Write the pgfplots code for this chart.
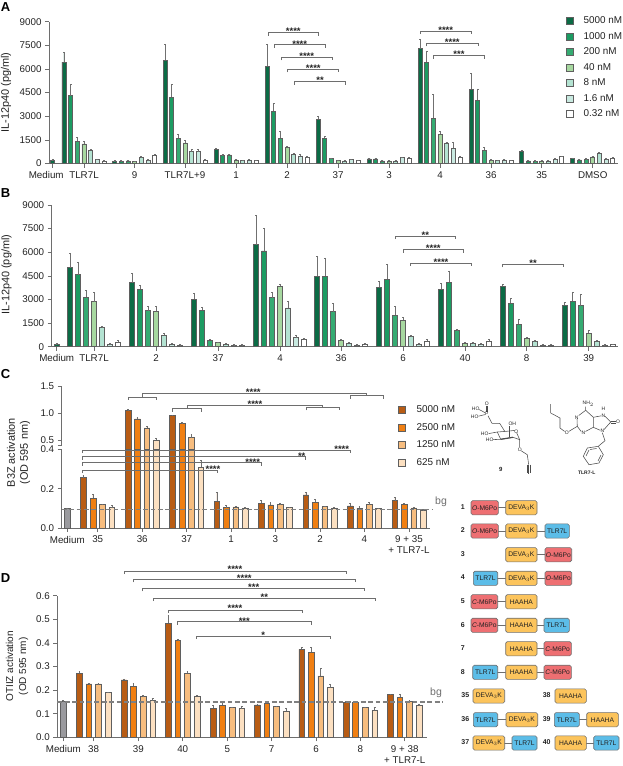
\documentclass[border=0pt]{standalone}
\usepackage{fontspec}
\setmainfont{Liberation Sans}
\usepackage{pgfplots}
\usepackage{pgfplotstable}
\pgfplotsset{compat=1.18}

\definecolor{txt}{HTML}{222222}
\definecolor{ax}{HTML}{6E6E6E}
\definecolor{bgline}{HTML}{808080}
\definecolor{barline}{HTML}{5F5F5F}
\definecolor{errline}{HTML}{707070}
\definecolor{gA}{HTML}{0B6B45}
\definecolor{gB}{HTML}{1C9B62}
\definecolor{gC}{HTML}{35AB72}
\definecolor{gD}{HTML}{A7D8A0}
\definecolor{gE}{HTML}{B4E3D2}
\definecolor{gF}{HTML}{C8E9E0}
\definecolor{gG}{HTML}{FFFFFF}
\definecolor{oA}{HTML}{B85C14}
\definecolor{oB}{HTML}{F07F12}
\definecolor{oC}{HTML}{F7BD7F}
\definecolor{oD}{HTML}{FCE0C1}
\definecolor{medgray}{HTML}{9A9A9E}
\definecolor{redb}{HTML}{EE6F72}
\definecolor{yelb}{HTML}{FCC45C}
\definecolor{blub}{HTML}{5CBDE8}

% x column = pixel position of the group centre, v/e = value and upper error per concentration
\pgfplotstableread{
x v1 e1 v2 e2 v3 e3 v4 e4 v5 e5 v6 e6 v7 e7
84 6440 610 4300 700 1400 250 1250 190 850 60 250 50 150 40
134.7 150 40 150 40 170 40 130 40 400 40 210 40 530 40
185 6540 1020 4200 820 1610 270 1310 150 760 150 760 150 210 40
236 910 60 530 40 550 40 230 40 190 40 230 40 190 40
287 6180 1400 3330 480 1590 440 1040 40 590 50 490 120 400 40
338 2820 170 1610 130 320 40 190 40 170 40 250 40 190 40
389 300 40 300 40 170 40 170 40 170 40 380 40 360 40
440 7290 590 6440 655 2860 1520 1860 170 1310 50 970 360 400 40
491 4720 1000 4020 720 850 170 210 40 190 40 230 40 190 40
541.7 780 50 170 40 150 40 170 40 170 40 275 40 445 40
592.7 320 40 230 40 275 40 420 40 650 50 275 40 340 40
}\tabA
\pgfplotstableread{
x v1 e1 v2 e2 v3 e3 v4 e4 v5 e5 v6 e6 v7 e7
94 5020 910 4575 765 3135 425 2860 610 1230 40 150 40 300 80
156 4070 590 3640 260 2290 270 2245 315 720 130 170 40 85 40
218 3030 360 2330 150 420 40 255 40 170 40 85 40 85 40
280 6480 1860 6080 1440 3110 320 3830 130 2460 420 570 170 445 85
341 4490 1270 4490 1160 2220 530 400 45 235 40 85 40 150 40
403 3790 340 4280 950 1990 550 1690 170 635 65 170 40 340 105
465 3660 380 4090 720 1020 100 235 40 210 45 150 40 340 105
526.7 3830 130 2750 320 1420 340 530 60 320 60 105 45 105 45
588.7 2630 170 2880 610 2600 750 870 170 340 60 85 40 125 45
}\tabB
\pgfplotstableread{
x v1 e1 v2 e2 v3 e3 v4 e4
97.7 0.256 0.012 0.151 0.019 0.119 0.003 0.103 0.011
142.2 1.06 0.01 0.895 0.03 0.728 0.03 0.506 0.037
186.7 0.955 0.008 0.815 0.012 0.55 0.06 0.31 0.034
231 0.136 0.045 0.103 0.012 0.107 0.004 0.102 0.002
275.3 0.127 0.012 0.117 0.012 0.119 0.005 0.103 0.002
320 0.168 0.013 0.132 0.014 0.108 0.002 0.102 0.003
364.3 0.112 0.013 0.1 0.012 0.119 0.01 0.098 0.002
409 0.139 0.015 0.122 0.003 0.102 0.005 0.092 0.001
}\tabC
\pgfplotstableread{
x v1 e1 v2 e2 v3 e3 v4 e4
93.7 0.271 0.009 0.226 0.002 0.226 0.002 0.189 0.003
138.3 0.243 0.005 0.216 0.013 0.175 0.002 0.155 0.01
182.7 0.483 0.035 0.412 0.002 0.272 0.006 0.176 0.003
227.3 0.124 0.012 0.136 0.008 0.127 0.002 0.121 0.01
271.7 0.137 0.003 0.144 0.004 0.131 0.002 0.112 0.011
316 0.373 0.007 0.36 0.021 0.26 0.032 0.21 0.014
360.3 0.148 0.006 0.147 0.003 0.127 0.002 0.114 0.013
404.7 0.181 0.002 0.169 0.015 0.152 0.005 0.134 0.004
}\tabD

\pgfplotsset{
  panel/.style={
    scale only axis, anchor=south west, ybar, enlargelimits=false,
    axis lines=left, axis line style={-,draw=ax,line width=0.7pt},
    tick align=outside, tick pos=left, major tick length=4pt,
    tick style={draw=ax,line width=0.7pt},
    tick label style={font=\fontsize{9.8}{11}\selectfont,text=txt},
    /pgf/number format/assume math mode=true,
    /pgf/number format/1000 sep={}, scaled y ticks=false,
    xticklabel style={align=center,yshift=-0.5pt},
    legend image code/.code={\draw[#1,draw=barline,line width=0.6pt] (0pt,-3.6pt) rectangle (7.2pt,3.6pt);},
  },
  onedigit/.style={/pgf/number format/fixed,/pgf/number format/fixed zerofill,/pgf/number format/precision=1},
  bars/.style={
    draw=barline, line width=0.55pt,
    /pgfplots/error bars/y dir=plus, /pgfplots/error bars/y explicit,
    /pgfplots/error bars/error bar style={draw=errline,line width=0.6pt},
    /pgfplots/error bars/error mark options={rotate=90,errline,mark size=0.9pt,line width=0.5pt},
  },
  bgdash/.style={sharp plot,no marks,draw=bgline,line width=1.3pt,dash pattern=on 4.8pt off 2.6pt},
}
\newcommand{\ser}[4]{\addplot[bars,fill=#2,bar shift=#3pt] table[x=x,y=v#4,y error=e#4]{#1};}
\newcommand{\brk}[6]{\draw[ax,line width=0.7pt] (#1,#3+3)--(#1,#3)--(#2,#3)--(#2,#3+3);
  \node[anchor=base,inner sep=0pt,text=txt,font=\bfseries\fontsize{9.5}{10}\selectfont] at (#5,#6+5.6) {#4};}
\newcommand{\cb}[5]{\draw[rounded corners=1.6pt,fill=#4,draw=ax,line width=0.6pt] (#1,#3-7.1) rectangle (#2,#3+7.1);
  \node[inner sep=0pt,text=txt,font=\fontsize{6.7}{7}\selectfont] at ({(#1+#2)/2},#3) {#5};}
\newcommand{\lk}[3]{\draw[ax,line width=0.6pt] (#1,#3)--(#2,#3);}
\newcommand{\num}[3]{\node[inner sep=0pt,text=txt,font=\bfseries\fontsize{7}{8}\selectfont] at (#1,#2) {#3};}
\newcommand{\chem}[3]{\node[inner sep=0pt,text=txt,font=\fontsize{5}{6}\selectfont] at (#1,#2) {#3};}
\newcommand{\OM}{\textit{O}-M6Po}
\newcommand{\CM}{\textit{C}-M6Po}
\newcommand{\DV}{DEVA$_3$K}

\begin{document}
\begin{tikzpicture}[x=1pt,y=-1pt]
\useasboundingbox (0,0) rectangle (622,766);
\coordinate (pA) at (49,163.5);
\coordinate (pB) at (51.7,346.7);
\coordinate (pC) at (61.7,528);
\coordinate (pCu) at (61.7,449.3);
\coordinate (pD) at (57.3,737.3);

% panel A
\begin{axis}[panel, at={(pA)}, width=569pt, height=141.8pt,
  xmin=49, xmax=618, ymin=0, ymax=9000, bar width=4pt,
  ytick={0,1500,3000,4500,6000,7500,9000},
  xtick={52.7,84,134.7,185,236,287,338,389,440,491,541.7,592.7},
  xticklabels={\hspace*{-13pt}Medium,TLR7L,9,TLR7L+9,1,2,37,3,4,36,35,DMSO},
  ylabel={IL-12p40 (pg/ml)},
  every axis y label/.style={at={(axis description cs:-0.0756,0.5)},rotate=90,anchor=center,font=\fontsize{10.9}{12}\selectfont,text=txt},
  legend style={at={(axis cs:565.5,9360)},anchor=north west,draw=none,fill=none,inner sep=0pt,
    font=\fontsize{9.9}{11}\selectfont,text=txt,row sep=5.9pt,column sep=9.5pt,
    nodes={inner sep=0.6pt}},
  legend cell align=left]
\ser{\tabA}{gA}{-20}{1}\addlegendentry{5000 nM}
\ser{\tabA}{gB}{-13.33}{2}\addlegendentry{1000 nM}
\ser{\tabA}{gC}{-6.67}{3}\addlegendentry{200 nM}
\ser{\tabA}{gD}{0}{4}\addlegendentry{40 nM}
\ser{\tabA}{gE}{6.67}{5}\addlegendentry{8 nM}
\ser{\tabA}{gF}{13.33}{6}\addlegendentry{1.6 nM}
\ser{\tabA}{gG}{20}{7}\addlegendentry{0.32 nM}
\addplot[bars,fill=gA,bar shift=0pt,forget plot] coordinates {(52.7,190) +- (0,60)};
\end{axis}

% panel B
\begin{axis}[panel, at={(pB)}, width=566.3pt, height=141.7pt,
  xmin=51.7, xmax=618, ymin=0, ymax=9000, bar width=5pt,
  ytick={0,1500,3000,4500,6000,7500,9000},
  xtick={56.7,94,156,218,280,341,403,465,526.7,588.7},
  xticklabels={Medium,TLR7L,2,37,4,36,6,40,8,39},
  ylabel={IL-12p40 (pg/ml)},
  every axis y label/.style={at={(axis description cs:-0.0795,0.508)},rotate=90,anchor=center,font=\fontsize{10.9}{12}\selectfont,text=txt}]
\ser{\tabB}{gA}{-24}{1}
\ser{\tabB}{gB}{-16}{2}
\ser{\tabB}{gC}{-8}{3}
\ser{\tabB}{gD}{0}{4}
\ser{\tabB}{gE}{8}{5}
\ser{\tabB}{gF}{16}{6}
\ser{\tabB}{gG}{24}{7}
\addplot[bars,fill=gA,bar shift=0pt] coordinates {(56.7,150) +- (0,40)};
\end{axis}

% panel C, lower part of the broken axis
\begin{axis}[panel, at={(pC)}, width=368.3pt, height=78.7pt,
  xmin=61.7, xmax=430, ymin=0, ymax=0.4, bar width=5.6pt,
  ytick={0,0.2,0.4}, yticklabel style={onedigit},
  xtick={67.3,97.7,142.2,186.7,231,275.3,320,364.3,409},
  xticklabels={Medium,35,36,37,1,3,2,4,{9 + 35\\+ TLR7-L}},
  ylabel={B3Z activation\\(OD 595 nm)},
  every axis y label/.style={at={(axis description cs:-0.1173,0.957)},rotate=90,anchor=center,align=center,font=\fontsize{10.9}{13}\selectfont,text=txt},
  legend style={at={(axis cs:397.5,0.625)},anchor=north west,draw=none,fill=none,inner sep=0pt,
    font=\fontsize{9.9}{11}\selectfont,text=txt,row sep=7.9pt,column sep=10.5pt,nodes={inner sep=0.6pt}},
  legend cell align=left]
\ser{\tabC}{oA}{-14.16}{1}\addlegendentry{5000 nM}
\ser{\tabC}{oB}{-4.72}{2}\addlegendentry{2500 nM}
\ser{\tabC}{oC}{4.72}{3}\addlegendentry{1250 nM}
\ser{\tabC}{oD}{14.16}{4}\addlegendentry{625 nM}
\addplot[bars,fill=medgray,bar shift=0pt,forget plot] coordinates {(67.3,0.098) +- (0,0.004)};
\end{axis}

% panel C, upper part: only the bars above the break
\begin{axis}[panel, at={(pCu)}, width=368.3pt, height=63pt,
  xmin=61.7, xmax=430, ymin=0.3333, ymax=1.5, bar width=5.6pt,
  axis x line=none,
  ytick={0.413,0.5,1,1.5}, yticklabels={,0.5,1.0,1.5},
  y filter/.expression={y<0.4 ? nan : y}]
\ser{\tabC}{oA}{-14.16}{1}
\ser{\tabC}{oB}{-4.72}{2}
\ser{\tabC}{oC}{4.72}{3}
\ser{\tabC}{oD}{14.16}{4}
\end{axis}
\fill[white] (60,445.6) rectangle (63.5,448.9);

% background level of panel C
\begin{axis}[scale only axis, anchor=south west, at={(pC)}, width=368.3pt, height=78.7pt,
  xmin=61.7, xmax=430, ymin=0, ymax=0.4, hide axis, clip=false]
\addplot[bgdash] coordinates {(61.7,0.0945) (433,0.0945)};
\end{axis}

% panel D
\begin{axis}[panel, at={(pD)}, width=369.4pt, height=141.6pt,
  xmin=57.3, xmax=426.7, ymin=0, ymax=0.6, bar width=5.6pt, clip=false,
  ytick={0,0.1,0.2,0.3,0.4,0.5,0.6}, yticklabel style={onedigit},
  xtick={63.3,93.7,138.3,182.7,227.3,271.7,316,360.3,404.7},
  xticklabels={Medium,38,39,40,5,7,6,8,{9 + 38\\+ TLR7-L}},
  ylabel={OTIIZ activation\\(OD 595 nm)},
  every axis y label/.style={at={(axis description cs:-0.109,0.501)},rotate=90,anchor=center,align=center,font=\fontsize{10}{13}\selectfont,text=txt}]
\ser{\tabD}{oA}{-14.3}{1}
\ser{\tabD}{oB}{-4.77}{2}
\ser{\tabD}{oC}{4.77}{3}
\ser{\tabD}{oD}{14.3}{4}
\addplot[bars,fill=medgray,bar shift=0pt] coordinates {(63.3,0.151) +- (0,0.006)};
\addplot[bgdash] coordinates {(57.3,0.15) (443,0.15)};
\end{axis}

% panel letters and bg labels
\foreach \l/\py in {A/7,B/192.7,C/374,D/578}
  \node[inner sep=0pt,font=\bfseries\fontsize{13}{14}\selectfont,text=black] at (5.5,\py) {\l};
\node[inner sep=0pt,text=ax,font=\fontsize{10.5}{11}\selectfont] at (441,501.7) {bg};
\node[inner sep=0pt,text=ax,font=\fontsize{10.5}{11}\selectfont] at (436,692.7) {bg};

% significance brackets A
\brk{268}{318.7}{32.7}{****}{293.3}{29.3}
\brk{274.3}{325.3}{44.7}{****}{299.7}{41.7}
\brk{281}{332.3}{57.3}{****}{306.7}{54}
\brk{287.7}{338.7}{69.3}{****}{313.3}{66}
\brk{294.3}{345.3}{81.7}{**}{320}{78.3}
\brk{420.3}{471.7}{31}{****}{445.7}{28.3}
\brk{426.7}{478}{43.3}{****}{452.3}{40}
\brk{433.7}{484.7}{55.7}{***}{459}{52.3}
% B
\brk{395}{455.7}{236}{**}{425.3}{232.7}
\brk{403}{463.7}{249.7}{****}{433.3}{246}
\brk{410.3}{471.3}{263}{****}{441}{259.7}
\brk{502.7}{563.3}{264.3}{**}{533}{260.7}
% C lower
\brk{82.7}{350.3}{450}{****}{341.7}{446.7}
\brk{82.7}{305.3}{456.7}{**}{301.7}{453.7}
\brk{82.7}{261.7}{462.7}{****}{252.7}{460.3}
\brk{82.7}{217.3}{470}{****}{213}{467.3}
% C upper, pairs of groups
\begin{scope}[ax,line width=0.7pt]
\draw (128,399.7)--(128,397)--(156.3,397)--(156.3,399.7);
\draw (142.3,397)--(142.3,393.7)--(366.7,393.7)--(366.7,395.7);
\draw (350,398.7)--(350,395.7)--(383.3,395.7)--(383.3,398.7);
\draw (172.3,411.7)--(172.3,408.3)--(201.3,408.3)--(201.3,411.7);
\draw (187,408.3)--(187,405.3)--(322.7,405.3)--(322.7,407.3);
\draw (306,410.3)--(306,407.3)--(339.3,407.3)--(339.3,410.3);
\end{scope}
\node[anchor=base,inner sep=0pt,text=txt,font=\bfseries\fontsize{9.5}{10}\selectfont] at (253.3,395.6) {****};
\node[anchor=base,inner sep=0pt,text=txt,font=\bfseries\fontsize{9.5}{10}\selectfont] at (255,407.3) {****};
% D
\brk{124}{346}{571}{****}{235}{566.7}
\brk{133.7}{355.3}{579.3}{****}{244.3}{576.3}
\brk{142.7}{364.7}{588.3}{***}{253.7}{585.3}
\brk{153.3}{375.7}{598}{**}{264.3}{595}
\brk{168.3}{302}{610}{****}{235}{606}
\brk{177.7}{311.3}{621.7}{***}{244.3}{619}
\brk{196.7}{330.3}{636}{*}{263.3}{632.7}

% construct schemes
\num{462.7}{506.7}{1}\num{462.7}{530.3}{2}\num{462.7}{554}{3}\num{462.7}{577}{4}
\lk{498}{506}{507.7}\cb{471}{498.3}{507.7}{redb}{\OM}\cb{505.7}{537}{507.7}{yelb}{\DV}
\lk{498}{545}{531}\cb{471}{498.3}{531}{redb}{\OM}\cb{505.7}{537}{531}{yelb}{\DV}\cb{545}{569.3}{531}{blub}{TLR7L}
\lk{537}{545}{554.7}\cb{505.7}{537}{554.7}{yelb}{\DV}\cb{545}{571.7}{554.7}{redb}{\OM}
\lk{497}{545}{578.3}\cb{473.3}{497.7}{578.3}{blub}{TLR7L}\cb{505.7}{537}{578.3}{yelb}{\DV}\cb{545}{571.7}{578.3}{redb}{\OM}
\num{462.7}{600.7}{5}\num{462.7}{624.7}{6}\num{462.7}{647.7}{7}\num{462.7}{671.7}{8}
\lk{497}{506}{601.7}\cb{471}{497.7}{601.7}{redb}{\CM}\cb{505.7}{537}{601.7}{yelb}{HAAHA}
\lk{497}{544}{625.3}\cb{471}{497.7}{625.3}{redb}{\CM}\cb{505.7}{537}{625.3}{yelb}{HAAHA}\cb{544}{569.3}{625.3}{blub}{TLR7L}
\lk{537}{544}{648.7}\cb{505.7}{537}{648.7}{yelb}{HAAHA}\cb{544}{571.3}{648.7}{redb}{\CM}
\lk{497}{544}{672.3}\cb{472.7}{497.7}{672.3}{blub}{TLR7L}\cb{505.7}{537}{672.3}{yelb}{HAAHA}\cb{544}{571.3}{672.3}{redb}{\CM}
\num{465.3}{695.3}{35}\cb{473}{504.7}{696}{yelb}{\DV}
\num{546.7}{695}{38}\cb{555}{586.3}{696}{yelb}{HAAHA}
\num{465.3}{719}{36}\lk{497}{506}{719.7}\cb{473.3}{497.7}{719.7}{blub}{TLR7L}\cb{506}{537.7}{719.7}{yelb}{\DV}
\num{546.7}{719}{39}\lk{579}{587}{719.7}\cb{554.3}{579.3}{719.7}{blub}{TLR7L}\cb{586.7}{618.3}{719.7}{yelb}{HAAHA}
\num{465.3}{742.3}{37}\lk{504}{512}{743}\cb{473}{504.7}{743}{yelb}{\DV}\cb{512}{537}{743}{blub}{TLR7L}
\num{546.7}{742.3}{40}\lk{586}{594}{743}\cb{555}{586.3}{743}{yelb}{HAAHA}\cb{593.7}{619}{743}{blub}{TLR7L}

% structure 9
\begin{scope}[draw=ax!70!black,line width=0.55pt]
\draw (485.9,405.8)--(485.9,411.5) (487.5,405.8)--(487.5,411.5);
\draw (479,409.5)--(485,412.6) (478.3,416.2)--(485,414.6);
\draw (488,415.8)--(492,423.3)--(499.7,423.3)--(504.7,431.3);
\draw (497.3,432)--(500.7,439.3)--(513,437.3)--(519.7,439.7)--(516.6,432.7);
\draw (514.6,430.4)--(506.5,431.3)--(497.3,432);
\draw[line width=1.2pt] (500.7,439.3)--(513,437.3);
\draw (509.7,426)--(509.7,436.5);
\draw (488.6,433.6)--(497.3,432) (493.2,439.6)--(500.7,439.3);
\draw (519.7,439.7)--(519.7,447) (521.2,450.8)--(527.3,454.7)--(528.7,464.7);
\draw (528.7,464.7)--(528.7,474) (527.3,464.7)--(527.3,473) (530.1,464.7)--(530.1,473);
\end{scope}
\chem{486.7}{404}{O}\chem{486.7}{413.7}{P}\chem{475.7}{409}{HO}\chem{474.7}{416.7}{HO}
\chem{512.3}{423.7}{OH}\chem{484.7}{433.3}{HO}\chem{489.7}{439.7}{HO}
\chem{516.3}{431.3}{O}\chem{519.7}{449.3}{O}
\node[inner sep=0pt,text=txt,font=\bfseries\fontsize{6}{7}\selectfont] at (500.7,469.3) {9};

% structure TLR7-L
\begin{scope}[draw=ax!70!black,line width=0.55pt]
\draw (585.7,406.5)--(585.7,410.3)--(593.3,417.3)--(593.3,427.3)--(585.4,431.5);
\draw (581.2,431.5)--(577.3,426.3)--(577,419) (578.7,415.5)--(585.7,410.3);
\draw (593.3,417.3)--(601.3,415.8) (605,416.3)--(610.7,422)--(604,429.6) (593.3,427.3)--(600.3,430.3);
\draw (610.7,421.2)--(616,421.2) (610.7,422.8)--(616,422.8);
\draw (577.3,426.3)--(568.8,431.4) (564.6,431.4)--(560,428)--(560,418)--(550.7,413)--(550.7,404);
\draw (602.3,432.6)--(605,440.7)--(598.3,446.3);
\draw (598.3,446.3)--(587.3,448)--(583.3,456.3)--(589,464.7)--(599,463)--(603.3,454.7)--cycle;
\draw (589,450)--(586,456) (598,461)--(601,455) (596.5,448.5)--(590,449.5);
\end{scope}
\chem{588.3}{404}{NH$_2$}\chem{576.7}{417.3}{N}\chem{583.3}{432.7}{N}\chem{603.3}{415.3}{N}\chem{603.3}{408.7}{H}
\chem{602.3}{430.7}{N}\chem{618}{422}{O}\chem{566.7}{432.3}{O}
\node[inner sep=0pt,text=txt,font=\bfseries\fontsize{5}{6}\selectfont] at (586.7,472.3) {TLR7-L};
\end{tikzpicture}
\end{document}
